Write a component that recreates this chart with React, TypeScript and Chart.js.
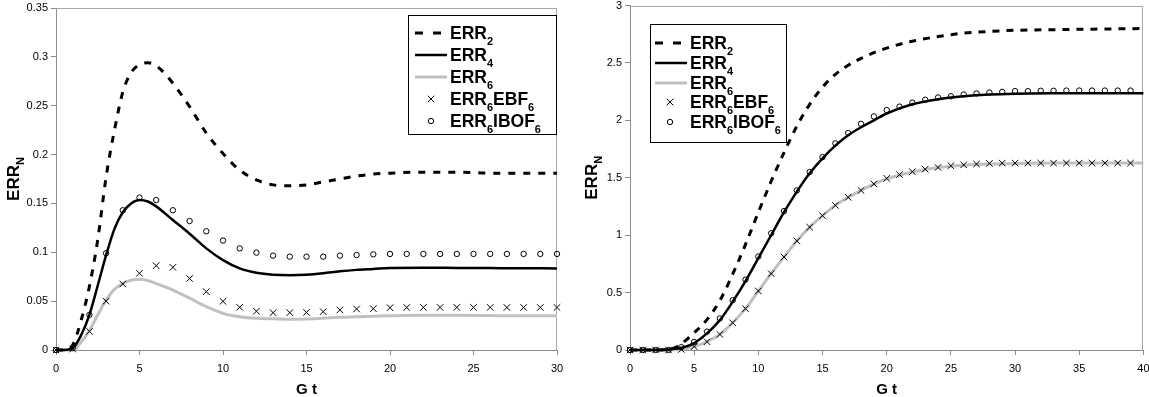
import React, { useEffect, useRef } from 'react';
import { Chart, registerables } from 'chart.js';

Chart.register(...registerables);

const FONT = '"Liberation Sans", Arial, Helvetica, sans-serif';

// ---------- Left chart data ----------
const leftLineT = [0, 0.5, 1, 1.5, 2, 2.5, 3, 3.5, 4, 4.5, 5, 5.5, 6, 7, 8, 9, 10, 11, 12, 13, 14, 15, 16, 17, 18, 19, 20, 22, 24, 26, 28, 30];
const leftErr2 = [0, 0, 0.005, 0.03, 0.065, 0.113, 0.177, 0.225, 0.264, 0.284, 0.292, 0.294, 0.291, 0.273, 0.249, 0.222, 0.201, 0.184, 0.174, 0.169, 0.168, 0.169, 0.172, 0.175, 0.178, 0.18, 0.181, 0.182, 0.182, 0.181, 0.181, 0.181];
const leftErr4 = [0, 0, 0.002, 0.015, 0.036, 0.066, 0.097, 0.124, 0.141, 0.15, 0.1535, 0.152, 0.147, 0.133, 0.119, 0.104, 0.092, 0.0835, 0.079, 0.077, 0.0765, 0.077, 0.0785, 0.0805, 0.082, 0.083, 0.084, 0.0842, 0.084, 0.0838, 0.0836, 0.0835];
const leftErr6 = [0, 0, 0, 0.008, 0.02, 0.036, 0.051, 0.062, 0.068, 0.0715, 0.0723, 0.071, 0.068, 0.0614, 0.053, 0.0443, 0.0375, 0.034, 0.0324, 0.032, 0.0315, 0.0318, 0.0325, 0.0335, 0.034, 0.0345, 0.035, 0.0356, 0.0355, 0.0352, 0.035, 0.035];
const leftMarkT = [0, 1, 2, 3, 4, 5, 6, 7, 8, 9, 10, 11, 12, 13, 14, 15, 16, 17, 18, 19, 20, 21, 22, 23, 24, 25, 26, 27, 28, 29, 30];
const leftEbf6 = [0, 0.001, 0.019, 0.05, 0.0676, 0.0785, 0.0863, 0.0846, 0.0732, 0.0597, 0.0498, 0.0437, 0.0397, 0.0382, 0.0382, 0.0385, 0.0392, 0.041, 0.042, 0.0423, 0.0433, 0.0435, 0.0436, 0.0436, 0.0436, 0.0436, 0.0436, 0.0435, 0.0435, 0.0435, 0.0435];
const leftIbof6 = [0, 0.002, 0.036, 0.099, 0.143, 0.156, 0.1535, 0.143, 0.132, 0.1215, 0.112, 0.104, 0.0996, 0.0966, 0.0955, 0.0955, 0.0955, 0.0966, 0.0972, 0.0979, 0.0983, 0.0983, 0.0983, 0.0983, 0.0983, 0.0983, 0.0983, 0.0983, 0.0983, 0.0983, 0.0983];

// ---------- Right chart data ----------
const rightLineT = [0, 1, 2, 3, 3.5, 4, 4.5, 5, 6, 7, 8, 9, 10, 11, 12, 13, 14, 15, 16, 17, 18, 19, 20, 22, 24, 26, 28, 30, 33, 36, 40];
const rightErr2 = [0, 0, 0, 0.003, 0.02, 0.055, 0.1, 0.15, 0.265, 0.43, 0.66, 0.92, 1.2, 1.47, 1.72, 1.95, 2.14, 2.29, 2.4, 2.48, 2.54, 2.59, 2.63, 2.69, 2.73, 2.76, 2.775, 2.785, 2.79, 2.795, 2.8];
const rightErr4 = [0, 0, 0, 0.005, 0.01, 0.02, 0.035, 0.06, 0.145, 0.26, 0.42, 0.6, 0.8, 1.0, 1.2, 1.38, 1.54, 1.67, 1.78, 1.87, 1.94, 2.0, 2.06, 2.14, 2.185, 2.21, 2.225, 2.232, 2.236, 2.237, 2.237];
const rightErr6 = [0, 0, 0, 0, 0.002, 0.005, 0.015, 0.03, 0.072, 0.136, 0.237, 0.36, 0.514, 0.665, 0.81, 0.95, 1.07, 1.17, 1.26, 1.33, 1.39, 1.445, 1.49, 1.55, 1.59, 1.61, 1.62, 1.625, 1.628, 1.628, 1.628];
const rightMarkT = [0, 1, 2, 3, 4, 5, 6, 7, 8, 9, 10, 11, 12, 13, 14, 15, 16, 17, 18, 19, 20, 21, 22, 23, 24, 25, 26, 27, 28, 29, 30, 31, 32, 33, 34, 35, 36, 37, 38, 39];
const rightEbf6 = [0, 0, 0, 0, 0.005, 0.03, 0.072, 0.136, 0.237, 0.36, 0.514, 0.665, 0.81, 0.95, 1.07, 1.17, 1.26, 1.33, 1.39, 1.447, 1.495, 1.528, 1.553, 1.575, 1.59, 1.605, 1.613, 1.62, 1.625, 1.628, 1.628, 1.628, 1.628, 1.628, 1.628, 1.628, 1.628, 1.628, 1.628, 1.628];
const rightIbof6 = [0, 0, 0, 0, 0.025, 0.07, 0.16, 0.275, 0.434, 0.613, 0.815, 1.017, 1.21, 1.39, 1.55, 1.68, 1.8, 1.89, 1.97, 2.035, 2.09, 2.12, 2.155, 2.18, 2.2, 2.21, 2.226, 2.235, 2.243, 2.249, 2.255, 2.255, 2.258, 2.258, 2.26, 2.26, 2.26, 2.26, 2.26, 2.26];

// ---------- Labels ----------
// segments: even index = normal, odd index = subscript
const legendLabels: string[][] = [
  ['ERR', '2'],
  ['ERR', '4'],
  ['ERR', '6'],
  ['ERR', '6', 'EBF', '6'],
  ['ERR', '6', 'IBOF', '6'],
];
const yTitle = ['ERR', 'N'];
const xTitle = 'G t';

const GREY_LINE = '#c0c0c0';

function drawRich(ctx: CanvasRenderingContext2D, segs: string[], x: number, y: number, size: number, measureOnly = false) {
  let cx = x;
  segs.forEach((t, i) => {
    const sub = i % 2 === 1;
    const fs = sub ? Math.round(size * 0.62) : size;
    ctx.font = `bold ${fs}px ${FONT}`;
    if (!measureOnly) ctx.fillText(t, cx, sub ? y + size * 0.3 : y);
    cx += ctx.measureText(t).width;
  });
  return cx - x;
}

type Decor = {
  legend: { x: number; y: number; w: number; h: number; rows: number[]; s0: number; s1: number; mx: number; tx: number; dash: number[] };
  yTitleX: number;
  xTitleY: number;
  legendFont: number;
};

function decorPlugin(d: Decor) {
  return {
    id: 'decor',
    beforeDatasetsDraw(chart: any) {
      const ctx: CanvasRenderingContext2D = chart.ctx;
      const a = chart.chartArea;
      ctx.save();
      ctx.strokeStyle = '#a8a8a8';
      ctx.lineWidth = 1;
      ctx.beginPath();
      ctx.moveTo(Math.round(a.left) + 0.5, Math.round(a.top) + 0.5);
      ctx.lineTo(Math.round(a.right) - 0.5, Math.round(a.top) + 0.5);
      ctx.lineTo(Math.round(a.right) - 0.5, Math.round(a.bottom));
      ctx.stroke();
      ctx.restore();
    },
    afterDraw(chart: any) {
      const ctx: CanvasRenderingContext2D = chart.ctx;
      const a = chart.chartArea;
      ctx.save();
      ctx.fillStyle = '#000';
      ctx.textBaseline = 'alphabetic';
      // x title
      ctx.font = `bold 15px ${FONT}`;
      ctx.textAlign = 'center';
      ctx.fillText(xTitle, (a.left + a.right) / 2, d.xTitleY);
      ctx.textAlign = 'left';
      // y title rotated
      const ys = 17;
      const w = drawRich(ctx, yTitle, 0, 0, ys, true);
      ctx.save();
      ctx.translate(d.yTitleX, (a.top + a.bottom) / 2);
      ctx.rotate(-Math.PI / 2);
      drawRich(ctx, yTitle, -w / 2, 5, ys);
      ctx.restore();

      // legend
      const L = d.legend;
      ctx.fillStyle = '#fff';
      ctx.fillRect(L.x, L.y, L.w, L.h);
      ctx.strokeStyle = '#000';
      ctx.lineWidth = 1;
      ctx.strokeRect(L.x + 0.5, L.y + 0.5, L.w - 1, L.h - 1);
      L.rows.forEach((ry, i) => {
        ctx.save();
        if (i === 0) {
          ctx.strokeStyle = '#000';
          ctx.lineWidth = 3;
          ctx.setLineDash(L.dash);
          ctx.beginPath();
          ctx.moveTo(L.s0, ry);
          ctx.lineTo(L.s1, ry);
          ctx.stroke();
        } else if (i === 1) {
          ctx.strokeStyle = '#000';
          ctx.lineWidth = 2.5;
          ctx.beginPath();
          ctx.moveTo(L.s0, ry);
          ctx.lineTo(L.s1, ry);
          ctx.stroke();
        } else if (i === 2) {
          ctx.strokeStyle = GREY_LINE;
          ctx.lineWidth = 3;
          ctx.beginPath();
          ctx.moveTo(L.s0, ry);
          ctx.lineTo(L.s1, ry);
          ctx.stroke();
        } else if (i === 3) {
          ctx.strokeStyle = '#000';
          ctx.lineWidth = 1;
          const r = 3.3;
          ctx.beginPath();
          ctx.moveTo(L.mx - r, ry - r);
          ctx.lineTo(L.mx + r, ry + r);
          ctx.moveTo(L.mx + r, ry - r);
          ctx.lineTo(L.mx - r, ry + r);
          ctx.stroke();
        } else {
          ctx.strokeStyle = '#000';
          ctx.lineWidth = 1;
          ctx.beginPath();
          ctx.arc(L.mx, ry, 2.7, 0, Math.PI * 2);
          ctx.stroke();
        }
        ctx.restore();
        ctx.fillStyle = '#000';
        drawRich(ctx, legendLabels[i], L.tx, ry + d.legendFont * 0.36, d.legendFont);
      });
      ctx.restore();
    },
  };
}

function lineDs(label: string, xs: number[], ys: number[], color: string, width: number, dash: number[]) {
  return {
    label,
    data: xs.map((x, i) => ({ x, y: ys[i] })),
    borderColor: color,
    borderWidth: width,
    borderDash: dash,
    pointRadius: 0,
    pointHoverRadius: 0,
    cubicInterpolationMode: 'monotone' as const,
    fill: false,
    clip: false as any,
    order: 2,
  };
}

function markDs(label: string, xs: number[], ys: number[], style: string, r: number) {
  return {
    label,
    data: xs.map((x, i) => ({ x, y: ys[i] })),
    showLine: false,
    pointStyle: style,
    pointRadius: r,
    pointHoverRadius: r,
    pointBorderColor: '#000',
    pointBackgroundColor: 'rgba(0,0,0,0)',
    pointBorderWidth: 1,
    borderColor: '#000',
    clip: false as any,
    order: 0,
  };
}

function makeConfig(opts: {
  xMax: number; yMax: number; yStep: number; yDec: number;
  yAxisW: number; padTop: number; padRight: number; xAxisH: number;
  datasets: any[]; decor: Decor;
}) {
  const tickFont = { family: FONT, size: 11 };
  return {
    type: 'line' as const,
    data: { datasets: opts.datasets },
    options: {
      responsive: false,
      animation: false as const,
      events: [],
      layout: { padding: { left: 0, top: opts.padTop, right: opts.padRight, bottom: 0 } },
      plugins: { legend: { display: false }, tooltip: { enabled: false }, title: { display: false } },
      scales: {
        x: {
          type: 'linear' as const,
          min: 0,
          max: opts.xMax,
          ticks: { stepSize: 5, color: '#000', font: tickFont, padding: 7, maxRotation: 0, autoSkip: false },
          grid: { display: true, drawOnChartArea: false, drawTicks: true, tickLength: 5, color: '#8c8c8c' },
          border: { display: true, color: '#8c8c8c', width: 1 },
          afterFit: (s: any) => { s.height = opts.xAxisH; s.paddingLeft = 0; s.paddingRight = 0; },
        },
        y: {
          type: 'linear' as const,
          min: 0,
          max: opts.yMax,
          ticks: {
            stepSize: opts.yStep, color: '#000', font: tickFont, padding: 3,
            callback: (v: any) => String(+Number(v).toFixed(opts.yDec)),
          },
          grid: { display: true, drawOnChartArea: false, drawTicks: true, tickLength: 5, color: '#8c8c8c' },
          border: { display: true, color: '#8c8c8c', width: 1 },
          afterFit: (s: any) => { s.width = opts.yAxisW; s.paddingTop = 0; s.paddingBottom = 0; },
        },
      },
    },
    plugins: [decorPlugin(opts.decor)],
  };
}

const LEFT_W = 578;
const RIGHT_W = 571;
const H = 397;

export default function App() {
  const leftRef = useRef<HTMLCanvasElement>(null);
  const rightRef = useRef<HTMLCanvasElement>(null);

  useEffect(() => {
    Chart.defaults.font.family = FONT;
    const leftDatasets = [
      lineDs('ERR2', leftLineT, leftErr2, '#000', 3, [7, 8]),
      lineDs('ERR4', leftLineT, leftErr4, '#000', 2.5, []),
      lineDs('ERR6', leftLineT, leftErr6, GREY_LINE, 3, []),
      markDs('ERR6EBF6', leftMarkT, leftEbf6, 'crossRot', 4.6),
      markDs('ERR6IBOF6', leftMarkT, leftIbof6, 'circle', 2.7),
    ];
    const rightDatasets = [
      lineDs('ERR2', rightLineT, rightErr2, '#000', 3, [7, 7]),
      lineDs('ERR4', rightLineT, rightErr4, '#000', 2.5, []),
      lineDs('ERR6', rightLineT, rightErr6, GREY_LINE, 3, []),
      markDs('ERR6EBF6', rightMarkT, rightEbf6, 'crossRot', 4.6),
      markDs('ERR6IBOF6', rightMarkT, rightIbof6, 'circle', 2.7),
    ];
    const c1 = new Chart(leftRef.current as HTMLCanvasElement, makeConfig({
      xMax: 30, yMax: 0.35, yStep: 0.05, yDec: 2,
      yAxisW: 56, padTop: 8, padRight: LEFT_W - 557, xAxisH: H - 350,
      datasets: leftDatasets,
      decor: {
        legend: { x: 408, y: 15, w: 149, h: 120, rows: [33, 55, 77, 99, 121], s0: 415, s1: 447, mx: 431, tx: 450, dash: [8, 10] },
        yTitleX: 14, xTitleY: 394, legendFont: 17.5,
      },
    }) as any);
    const off = 578;
    const c2 = new Chart(rightRef.current as HTMLCanvasElement, makeConfig({
      xMax: 40, yMax: 3, yStep: 0.5, yDec: 1,
      yAxisW: 630 - off, padTop: 4, padRight: RIGHT_W - (1144 - off), xAxisH: H - 350,
      datasets: rightDatasets,
      decor: {
        legend: { x: 650 - off, y: 24, w: 137, h: 119, rows: [43, 63, 83, 102, 122], s0: 655 - off, s1: 687 - off, mx: 670 - off, tx: 690 - off, dash: [8, 10] },
        yTitleX: 592 - off, xTitleY: 394, legendFont: 17.5,
      },
    }) as any);
    return () => { c1.destroy(); c2.destroy(); };
  }, []);

  return (
    <div style={{ position: 'absolute', left: 0, top: 0, width: 1149, height: H, background: '#fff', overflow: 'hidden' }}>
      <canvas ref={leftRef} width={LEFT_W} height={H} style={{ position: 'absolute', left: 0, top: 0, width: LEFT_W, height: H }} />
      <canvas ref={rightRef} width={RIGHT_W} height={H} style={{ position: 'absolute', left: 578, top: 0, width: RIGHT_W, height: H }} />
    </div>
  );
}
